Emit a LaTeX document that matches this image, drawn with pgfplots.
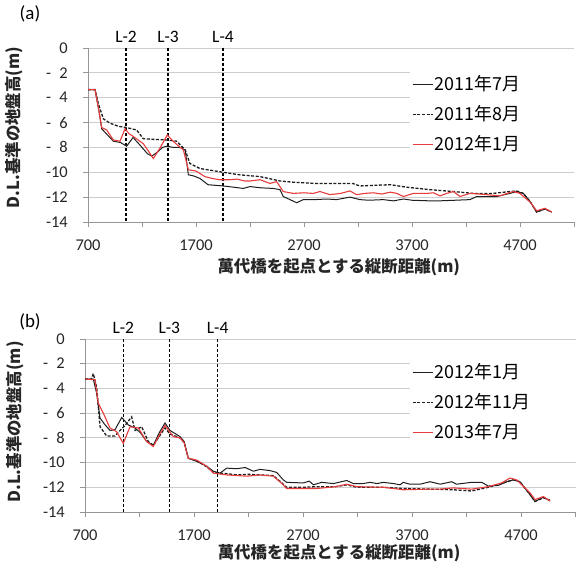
\documentclass[border=0pt]{standalone}
\usepackage{fontspec}
\setmainfont{Carlito}
\newfontfamily\jp{Noto Sans CJK JP}
\usepackage{pgfplots}
\pgfplotsset{compat=1.18}
\definecolor{lred}{RGB}{232,60,60}
\definecolor{lblack}{RGB}{30,30,30}
\definecolor{gridc}{RGB}{205,205,205}
\definecolor{axc}{RGB}{150,150,150}
\tikzset{lab/.style={font=\fontsize{17.5}{19}\selectfont, anchor=base, yshift=5bp},
  lbf/.style={font=\jp\bfseries\fontsize{16.5}{18}\selectfont, text=black!85}}
\pgfplotsset{
  exc/.style={
    scale only axis, clip=false,
    xmin=700, xmax=5200, ymin=-14, ymax=0,
    axis x line*=bottom, axis y line*=left,
    axis line style={draw=axc, line width=0.8bp, -},
    xtick={700,1700,2700,3700,4700},
    xticklabels={700,1700,2700,3700,4700},
    minor xtick={1200,2200,3200,4200,5200},
    ytick={-14,-12,-10,-8,-6,-4,-2,0},
    yticklabels={-14,-12,-10,-\phantom{0}8,-\phantom{0}6,-\phantom{0}4,-\phantom{0}2,0},
    tick align=outside, major tick length=5bp, minor tick length=5bp,
    tick style={draw=axc, line width=0.8bp},
    ymajorgrids, grid style={draw=gridc, line width=0.9bp},
    /pgf/number format/assume math mode=true,
    ticklabel style={font=\fontsize{16.5}{18}\selectfont, text=black!85},
    xticklabel style={anchor=north, inner sep=0pt, yshift=-13bp},
    yticklabel style={anchor=east, inner sep=0pt, xshift=-15bp},
    legend cell align=left,
    legend image code/.code={\draw[##1] (0bp,0bp) -- (20bp,0bp);},
    legend style={anchor=north west, draw=none, fill=none, inner xsep=2bp, inner ysep=2bp,
      row sep=7bp, font=\jp\fontsize{18}{20}\selectfont,
      nodes={text height=15bp, text depth=4bp, inner xsep=1bp},
      /tikz/every odd column/.append style={column sep=0bp}},
  },
  s1/.style={lblack, line width=1bp},
  s2/.style={lblack, line width=1.3bp, dash pattern=on 3bp off 1.6bp},
  s3/.style={lred, line width=1.1bp},
  vl/.style={black, line width=1.1bp, dash pattern=on 3bp off 2bp, forget plot},
}
\begin{document}
\begin{tikzpicture}
\path (0,0) rectangle (576bp,564bp);
% ---------- (a)
\begin{axis}[exc, at={(88bp,342bp)}, anchor=south west, width=486bp, height=174bp,
  xlabel={萬代橋を起点とする縦断距離(m)}, ylabel={D.L.基準の地盤高(m)},
  every axis x label/.style={at={(axis description cs:0.516,-0.259)}, anchor=center, lbf},
  every axis y label/.style={at={(axis description cs:-0.152,0.543)}, rotate=90, anchor=center, lbf},
  legend style={at={(axis description cs:0.6626,0.868)}}]
\fill[white] (axis cs:3680,-1.7) rectangle (axis cs:5200,-8.4);
\addplot[vl] coordinates {(1052,0) (1052,-14)};
\addplot[vl] coordinates {(1441,0) (1441,-14)};
\addplot[vl] coordinates {(1950,0) (1950,-14)};
\node[lab] at (axis cs:1052,0) {L-2};
\node[lab] at (axis cs:1441,0) {L-3};
\node[lab] at (axis cs:1950,0) {L-4};
\addplot[s1] coordinates {(700,-3.35) (765,-3.35) (800,-5.0) (827,-6.5) (870,-6.9) (935,-7.5) (1000,-7.6) (1058,-7.9) (1117,-7.2) (1180,-7.8) (1250,-8.5) (1290,-8.7) (1340,-8.4) (1390,-8.0) (1428,-7.9) (1490,-8.0) (1552,-8.0) (1600,-8.2) (1629,-10.2) (1680,-10.3) (1737,-10.5) (1811,-11.0) (1880,-11.05) (1950,-11.1) (2050,-11.2) (2137,-11.3) (2200,-11.15) (2300,-11.25) (2415,-11.3) (2478,-11.4) (2508,-11.95) (2570,-12.2) (2632,-12.45) (2694,-12.2) (2800,-12.2) (2910,-12.15) (3000,-12.2) (3126,-12.0) (3218,-12.2) (3300,-12.25) (3434,-12.2) (3530,-12.3) (3620,-12.15) (3700,-12.25) (3867,-12.3) (3950,-12.3) (4100,-12.25) (4237,-12.2) (4299,-11.95) (4400,-11.95) (4484,-11.95) (4607,-11.7) (4669,-11.55) (4731,-11.7) (4793,-12.35) (4854,-13.2) (4931,-12.95) (4993,-13.2)};
\addlegendentry{2011年7月}
\addplot[s2] coordinates {(700,-3.35) (765,-3.35) (795,-4.45) (842,-5.7) (904,-6.05) (980,-6.3) (1058,-6.4) (1150,-6.6) (1212,-7.3) (1300,-7.35) (1428,-7.4) (1521,-7.5) (1600,-8.2) (1644,-9.3) (1737,-9.7) (1860,-9.87) (1950,-10.0) (2100,-10.2) (2293,-10.35) (2400,-10.55) (2478,-10.7) (2600,-10.8) (2817,-10.9) (3000,-10.9) (3150,-10.9) (3218,-11.1) (3350,-11.05) (3500,-11.0) (3650,-11.2) (3867,-11.4) (4083,-11.55) (4268,-11.7) (4450,-11.7) (4607,-11.55) (4669,-11.5) (4731,-11.7) (4793,-12.35) (4854,-13.2) (4931,-12.95) (4993,-13.2)};
\addlegendentry{2011年8月}
\addplot[s3] coordinates {(700,-3.35) (765,-3.35) (800,-5.0) (827,-6.4) (873,-6.6) (935,-7.4) (996,-7.5) (1043,-6.5) (1080,-6.9) (1117,-7.1) (1212,-7.7) (1260,-8.3) (1305,-8.9) (1370,-8.0) (1434,-7.0) (1500,-7.6) (1583,-8.2) (1629,-9.8) (1700,-9.9) (1783,-10.35) (1850,-10.5) (1922,-10.6) (2015,-10.6) (2080,-10.55) (2150,-10.7) (2200,-10.7) (2293,-10.6) (2385,-10.9) (2446,-10.75) (2508,-11.55) (2601,-11.7) (2700,-11.65) (2786,-11.7) (2848,-11.55) (2940,-11.8) (3040,-11.7) (3126,-11.5) (3187,-11.8) (3260,-11.7) (3342,-11.65) (3420,-11.75) (3500,-11.6) (3560,-11.7) (3620,-11.95) (3713,-11.7) (3836,-11.7) (3898,-11.65) (3960,-11.9) (4020,-11.7) (4083,-11.55) (4144,-11.95) (4237,-11.7) (4320,-11.75) (4391,-11.8) (4515,-11.9) (4580,-11.7) (4638,-11.55) (4700,-11.7) (4793,-12.4) (4854,-13.1) (4931,-12.9) (4993,-13.2)};
\addlegendentry{2012年1月}
\end{axis}
% ---------- (b)
\begin{axis}[exc, at={(85bp,52bp)}, anchor=south west, width=490.5bp, height=173bp,
  xlabel={萬代橋を起点とする縦断距離(m)}, ylabel={D.L.基準の地盤高(m)},
  every axis x label/.style={at={(axis description cs:0.518,-0.237)}, anchor=center, lbf},
  every axis y label/.style={at={(axis description cs:-0.143,0.52)}, rotate=90, anchor=center, lbf},
  legend style={at={(axis description cs:0.6626,0.885)}}]
\fill[white] (axis cs:3680,-1.7) rectangle (axis cs:5200,-8.4);
\addplot[vl] coordinates {(1051,0) (1051,-14)};
\addplot[vl] coordinates {(1473,0) (1473,-14)};
\addplot[vl] coordinates {(1917,0) (1917,-14)};
\node[lab] at (axis cs:1051,0) {L-2};
\node[lab] at (axis cs:1473,0) {L-3};
\node[lab] at (axis cs:1917,0) {L-4};
\addplot[s1] coordinates {(700,-3.24) (776,-3.24) (807,-4.4) (838,-6.4) (880,-6.9) (929,-7.4) (975,-7.35) (1037,-6.35) (1097,-6.95) (1159,-7.2) (1210,-7.6) (1266,-8.3) (1327,-8.6) (1380,-7.6) (1434,-6.8) (1480,-7.4) (1572,-7.9) (1610,-8.3) (1648,-9.65) (1725,-9.9) (1817,-10.3) (1877,-10.7) (1939,-10.85) (2000,-10.45) (2092,-10.5) (2169,-10.4) (2245,-10.7) (2306,-10.55) (2398,-10.65) (2459,-10.8) (2519,-11.4) (2550,-11.6) (2703,-11.65) (2758,-11.5) (2795,-11.8) (2871,-11.6) (2979,-11.7) (3101,-11.45) (3162,-11.7) (3250,-11.7) (3315,-11.6) (3380,-11.7) (3437,-11.6) (3530,-11.7) (3590,-11.8) (3620,-11.6) (3680,-11.75) (3774,-11.75) (3866,-11.55) (3958,-11.75) (4065,-11.55) (4110,-11.75) (4247,-11.6) (4339,-11.6) (4400,-11.9) (4492,-11.85) (4568,-11.55) (4629,-11.4) (4690,-11.55) (4783,-12.6) (4828,-13.15) (4905,-12.8) (4966,-13.1)};
\addlegendentry{2012年1月}
\addplot[s2] coordinates {(700,-3.24) (760,-3.24) (776,-2.8) (807,-3.9) (838,-7.1) (899,-7.85) (975,-7.85) (1021,-7.4) (1067,-7.0) (1128,-6.3) (1159,-7.4) (1220,-7.1) (1281,-8.3) (1327,-8.6) (1434,-7.2) (1480,-7.7) (1572,-8.0) (1610,-8.4) (1648,-9.65) (1725,-9.85) (1817,-10.35) (1877,-10.8) (2000,-10.9) (2100,-11.0) (2200,-10.95) (2300,-11.0) (2428,-11.05) (2519,-11.75) (2550,-12.0) (2700,-12.0) (2826,-11.95) (3000,-11.95) (3101,-11.8) (3193,-12.0) (3437,-12.0) (3620,-12.1) (3865,-12.15) (4079,-12.2) (4247,-12.3) (4400,-12.0) (4538,-11.65) (4629,-11.4) (4690,-11.55) (4783,-12.6) (4828,-13.15) (4905,-12.85) (4966,-13.05)};
\addlegendentry{2012年11月}
\addplot[s3] coordinates {(700,-3.24) (792,-3.3) (822,-5.2) (868,-6.0) (929,-7.2) (990,-7.5) (1051,-8.45) (1113,-7.1) (1190,-7.2) (1266,-8.3) (1327,-8.7) (1380,-7.8) (1434,-7.0) (1511,-7.9) (1572,-8.0) (1610,-8.4) (1648,-9.65) (1725,-9.8) (1817,-10.3) (1877,-10.85) (2000,-11.0) (2185,-11.1) (2300,-11.0) (2428,-11.1) (2519,-11.8) (2550,-12.1) (2826,-12.1) (3000,-11.95) (3101,-11.75) (3193,-11.95) (3437,-12.0) (3620,-12.2) (3865,-12.15) (3950,-12.15) (4079,-12.05) (4247,-12.15) (4400,-11.95) (4522,-11.65) (4599,-11.25) (4660,-11.4) (4783,-12.45) (4828,-13.0) (4905,-12.75) (4966,-13.1)};
\addlegendentry{2013年7月}
\end{axis}
\node[font=\fontsize{19}{22}\selectfont] at (30bp,550bp) {(a)};
\node[font=\fontsize{19}{22}\selectfont] at (30bp,242bp) {(b)};
\end{tikzpicture}
\end{document}
